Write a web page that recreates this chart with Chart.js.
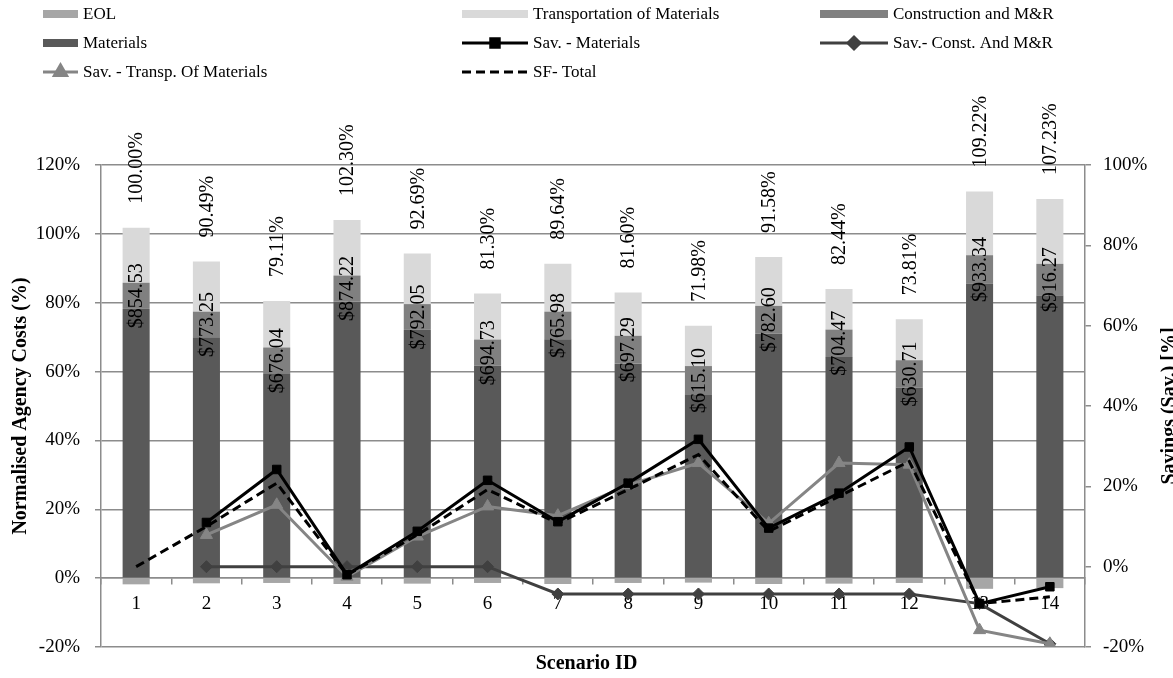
<!DOCTYPE html>
<html>
<head>
<meta charset="utf-8">
<script src="https://cdn.jsdelivr.net/npm/chart.js@4.4.0/dist/chart.umd.min.js"></script>
<style>
  html, body { margin: 0; padding: 0; background: #fff; }
  #wrap { width: 1173px; height: 678px; }
</style>
</head>
<body>
<div id="wrap"><canvas id="chart"></canvas></div>
<script>
const scenarios = ["1", "2", "3", "4", "5", "6", "7", "8", "9", "10", "11", "12", "13", "14"];

// normalised agency costs (%), left axis
const materials    = [78.2, 70.0, 59.3, 80.3, 72.1, 61.7, 69.4, 62.3, 53.2, 71.0, 64.2, 55.3, 85.5, 82.0];
const construction = [7.6, 7.4, 7.7, 7.6, 7.5, 7.6, 8.0, 8.1, 8.4, 8.1, 8.0, 8.0, 8.3, 9.3];
const transport    = [16.0, 14.6, 13.5, 16.1, 14.7, 13.4, 13.9, 12.6, 11.7, 14.2, 11.8, 11.9, 18.5, 18.8];
const eol          = [-1.8, -1.5, -1.4, -1.7, -1.6, -1.4, -1.7, -1.4, -1.3, -1.7, -1.6, -1.4, -3.1, -2.9];

const totalLabels = ["100.00%", "90.49%", "79.11%", "102.30%", "92.69%", "81.30%", "89.64%",
                     "81.60%", "71.98%", "91.58%", "82.44%", "73.81%", "109.22%", "107.23%"];
const costLabels  = ["$854.53", "$773.25", "$676.04", "$874.22", "$792.05", "$694.73", "$765.98",
                     "$697.29", "$615.10", "$782.60", "$704.47", "$630.71", "$933.34", "$916.27"];

// savings (%), right axis
const savMaterials = [null, 11.0, 24.2, -2.0, 8.8, 21.5, 11.2, 20.8, 31.7, 9.6, 18.3, 29.8, -9.2, -5.0];
const savConst     = [null, 0, 0, 0, 0, 0, -6.8, -6.8, -6.8, -6.8, -6.8, -6.8, -9.2, -19.2];
const savTransp    = [null, 7.9, 15.4, -2.5, 7.5, 15.0, 12.7, 20.3, 25.8, 10.8, 25.8, 25.4, -15.8, -19.2];
const sfTotal      = [0, 10.0, 20.8, -2.1, 7.9, 19.2, 10.8, 19.2, 27.9, 8.8, 17.5, 26.2, -9.2, -7.5];

const gridColor = "#8c8c8c";
const serif = '"Liberation Serif", "Times New Roman", serif';

Chart.defaults.font.family = serif;
Chart.defaults.color = "#000";

// legend layout (3 columns x 3 rows)
const legendOrder = ["EOL", "Transportation of Materials", "Construction and M&R",
                     "Materials", "Sav. - Materials", "Sav.- Const. And M&R",
                     "Sav. - Transp. Of Materials", "SF- Total"];
const legendCols = [43, 462, 820];
const legendSwatch = [35, 66, 68];
const legendRows = [14, 43, 72];

function drawMarker(ctx, ds, x, y) {
  if (!ds.pointStyle || ds.pointRadius === 0) return;
  Chart.helpers.drawPoint(ctx, {
    pointStyle: ds.pointStyle,
    radius: ds.pointRadius,
    borderWidth: 1,
    rotation: 0
  }, x, y);
}

const extras = {
  id: "extras",
  afterDatasetsDraw(chart) {
    const ctx = chart.ctx;
    const xs = chart.scales.x, ys = chart.scales.y;
    ctx.save();
    ctx.fillStyle = "#000";
    ctx.font = "20px " + serif;
    ctx.textBaseline = "middle";
    scenarios.forEach((s, i) => {
      const cx = xs.getPixelForValue(i);
      const top = ys.getPixelForValue(materials[i] + construction[i] + transport[i]);
      ctx.save();
      ctx.translate(cx + 1, top - 24);
      ctx.rotate(-Math.PI / 2);
      ctx.textAlign = "left";
      ctx.fillText(totalLabels[i], 0, 0);
      ctx.restore();

      const mid = ys.getPixelForValue(materials[i] + construction[i] / 2);
      ctx.save();
      ctx.translate(cx + 1, mid);
      ctx.rotate(-Math.PI / 2);
      ctx.textAlign = "center";
      ctx.fillText(costLabels[i], 0, 0);
      ctx.restore();
    });
    ctx.restore();
  },
  afterDraw(chart) {
    const ctx = chart.ctx;
    ctx.save();
    // legend
    ctx.font = "17px " + serif;
    ctx.textBaseline = "middle";
    ctx.textAlign = "left";
    legendOrder.forEach((label, k) => {
      const ds = chart.data.datasets.find(d => d.label === label);
      const col = k % 3;
      const x = legendCols[col], y = legendRows[Math.floor(k / 3)];
      const w = legendSwatch[col];
      if (ds.type === "line") {
        ctx.strokeStyle = ds.borderColor;
        ctx.lineWidth = ds.borderWidth;
        ctx.setLineDash(ds.borderDash || []);
        ctx.beginPath();
        ctx.moveTo(x, y);
        ctx.lineTo(x + w, y);
        ctx.stroke();
        ctx.setLineDash([]);
        ctx.fillStyle = ds.pointBackgroundColor;
        ctx.strokeStyle = ds.pointBorderColor;
        drawMarker(ctx, ds, x + w / 2, y);
      } else {
        ctx.fillStyle = ds.backgroundColor;
        ctx.fillRect(x, y - 4, w, 8);
      }
      ctx.fillStyle = "#000";
      ctx.fillText(label, x + w + 5, y + 1);
    });
    // right axis title
    const ca = chart.chartArea;
    ctx.font = "bold 20px " + serif;
    ctx.textAlign = "center";
    ctx.translate(1170, (ca.top + ca.bottom) / 2);
    ctx.rotate(-Math.PI / 2);
    ctx.fillText("Savings (Sav.) [%]", 0, 0);
    ctx.restore();
  }
};

const barBase = { type: "bar", yAxisID: "y", stack: "cost", order: 10,
                  barPercentage: 0.385, categoryPercentage: 1, borderWidth: 0 };
const lineBase = { type: "line", yAxisID: "y2", borderWidth: 3, tension: 0,
                   pointBorderWidth: 1, fill: false };

new Chart(document.getElementById("chart"), {
  type: "bar",
  data: {
    labels: scenarios,
    datasets: [
      { ...barBase, label: "Materials", data: materials, backgroundColor: "#595959" },
      { ...barBase, label: "Construction and M&R", data: construction, backgroundColor: "#808080" },
      { ...barBase, label: "Transportation of Materials", data: transport, backgroundColor: "#d9d9d9" },
      { ...barBase, label: "EOL", data: eol, backgroundColor: "#a6a6a6" },
      { ...lineBase, label: "Sav.- Const. And M&R", data: savConst, order: 4,
        borderColor: "#404040", pointBackgroundColor: "#404040", pointBorderColor: "#404040",
        pointStyle: "rectRot", pointRadius: 6 },
      { ...lineBase, label: "Sav. - Transp. Of Materials", data: savTransp, order: 3,
        borderColor: "#858585", pointBackgroundColor: "#858585", pointBorderColor: "#858585",
        pointStyle: "triangle", pointRadius: 7 },
      { ...lineBase, label: "Sav. - Materials", data: savMaterials, order: 2,
        borderColor: "#000", pointBackgroundColor: "#000", pointBorderColor: "#000",
        pointStyle: "rect", pointRadius: 6 },
      { ...lineBase, label: "SF- Total", data: sfTotal, order: 1,
        borderColor: "#000", borderDash: [9, 5], pointRadius: 0, pointStyle: false }
    ]
  },
  options: {
    responsive: true,
    maintainAspectRatio: false,
    animation: false,
    layout: { padding: { top: 165, left: 0, right: 0, bottom: 0 } },
    plugins: {
      legend: { display: false },
      tooltip: { enabled: false },
      title: {
        display: true, position: "bottom", text: "Scenario ID",
        font: { size: 20, weight: "bold" }, padding: { top: 5, bottom: 2 }, color: "#000"
      }
    },
    scales: {
      x: {
        type: "category",
        position: { y: 0 },
        stacked: true,
        grid: { offset: true, drawOnChartArea: false, tickLength: 6, color: gridColor, lineWidth: 1.5 },
        border: { color: gridColor, width: 1.5 },
        ticks: { font: { size: 19 }, padding: 8, color: "#000" }
      },
      y: {
        position: "left",
        stacked: true,
        min: -20, max: 120,
        afterFit(scale) { scale.width = 101; },
        ticks: { stepSize: 20, font: { size: 19 }, padding: 15, color: "#000",
                 callback: v => v + "%" },
        grid: { color: gridColor, lineWidth: 1.5, tickLength: 6 },
        border: { color: gridColor, width: 1.5 },
        title: { display: true, text: "Normalised Agency Costs (%)",
                 font: { size: 20, weight: "bold" }, padding: { top: 9, bottom: 0 }, color: "#000" }
      },
      y2: {
        position: "right",
        min: -20, max: 100,
        afterFit(scale) { scale.width = 88; },
        ticks: { stepSize: 20, font: { size: 19 }, padding: 12, color: "#000",
                 callback: v => v + "%" },
        grid: { drawOnChartArea: false, color: gridColor, lineWidth: 1.5, tickLength: 6 },
        border: { color: gridColor, width: 1.5 }
      }
    }
  },
  plugins: [extras]
});
</script>
</body>
</html>
